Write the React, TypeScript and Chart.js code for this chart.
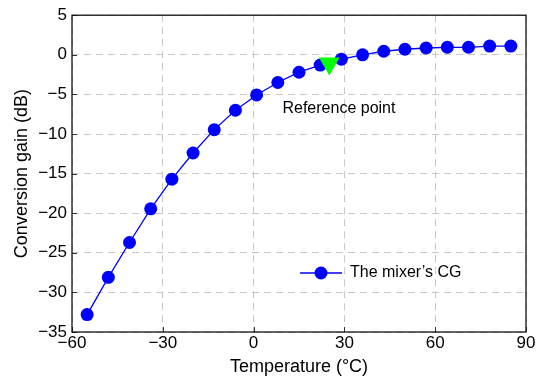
import React, { useEffect, useRef } from "react";
import { Chart, registerables } from "chart.js";

Chart.register(...registerables);

const temperatures = [-55, -48, -41, -34, -27, -20, -13, -6, 1, 8, 15, 22, 29, 36, 43, 50, 57, 64, 71, 78, 85];
const conversionGain = [-32.8, -28.1, -23.7, -19.45, -15.7, -12.4, -9.45, -7.0, -5.07, -3.5, -2.2, -1.3, -0.55, 0.0, 0.45, 0.7, 0.86, 0.95, 0.95, 1.1, 1.1];
const referenceTemp = [25];
const referenceGain = [-1.1];
const xTicks = [-60, -30, 0, 30, 60, 90];
const yTicks = [5, 0, -5, -10, -15, -20, -25, -30, -35];
const seriesLabel = "The mixer\u2019s CG";
const refLabel = "Reference point";
const refLabelPos = { x: 28.2, y: -6.75 };

const FONT = "'Liberation Sans', Arial, sans-serif";
const fmt = (v: number) => String(v).replace("-", "\u2212");

const boxPlugin = {
  id: "boxPlugin",
  afterDatasetsDraw(chart: any) {
    const { ctx, chartArea: a, scales } = chart;
    ctx.save();
    // inner ticks
    ctx.strokeStyle = "#333";
    ctx.lineWidth = 1;
    ctx.beginPath();
    xTicks.forEach((t) => {
      const px = Math.round(scales.x.getPixelForValue(t)) + 0.5;
      ctx.moveTo(px, a.bottom);
      ctx.lineTo(px, a.bottom - 5);
    });
    yTicks.forEach((t) => {
      const py = Math.round(scales.y.getPixelForValue(t)) + 0.5;
      ctx.moveTo(a.left, py);
      ctx.lineTo(a.left + 5, py);
    });
    ctx.stroke();
    // box
    ctx.strokeStyle = "#111";
    ctx.lineWidth = 1.3;
    ctx.strokeRect(a.left, a.top, a.right - a.left, a.bottom - a.top);

    // reference label
    ctx.fillStyle = "#000";
    ctx.font = `16px ${FONT}`;
    ctx.textAlign = "center";
    ctx.textBaseline = "middle";
    ctx.fillText(refLabel, scales.x.getPixelForValue(refLabelPos.x), scales.y.getPixelForValue(refLabelPos.y));

    // legend
    const lx0 = 300, lx1 = 342, ly = 273;
    ctx.strokeStyle = "#0000ff";
    ctx.lineWidth = 1.3;
    ctx.beginPath();
    ctx.moveTo(lx0, ly);
    ctx.lineTo(lx1, ly);
    ctx.stroke();
    ctx.fillStyle = "#0000ff";
    ctx.beginPath();
    ctx.arc((lx0 + lx1) / 2, ly, 6.5, 0, Math.PI * 2);
    ctx.fill();
    ctx.fillStyle = "#000";
    ctx.textAlign = "left";
    ctx.fillText(seriesLabel, 350, ly);
    ctx.restore();
  },
};

export default function App() {
  const ref = useRef<HTMLCanvasElement>(null);
  useEffect(() => {
    document.body.style.margin = "0";
    const chart = new Chart(ref.current!, {
      type: "scatter",
      data: {
        datasets: [
          {
            label: refLabel,
            data: referenceTemp.map((x, i) => ({ x, y: referenceGain[i] })),
            pointStyle: "triangle",
            rotation: 180,
            radius: 12,
            backgroundColor: "#00ff00",
            borderColor: "#00ff00",
            borderWidth: 0,
            showLine: false,
            order: 0,
          } as any,
          {
            label: seriesLabel,
            data: temperatures.map((x, i) => ({ x, y: conversionGain[i] })),
            showLine: true,
            borderColor: "#0000ff",
            borderWidth: 1.3,
            backgroundColor: "#0000ff",
            pointBackgroundColor: "#0000ff",
            pointBorderColor: "#0000ff",
            pointBorderWidth: 0,
            radius: 6.5,
            order: 1,
          } as any,
        ],
      },
      options: {
        animation: false,
        responsive: false,
        layout: { padding: { top: 13, right: 11, left: 0, bottom: 0 } },
        plugins: { legend: { display: false }, tooltip: { enabled: false } },
        scales: {
          x: {
            type: "linear",
            min: -60,
            max: 90,
            afterBuildTicks: (s: any) => { s.ticks = xTicks.map((v) => ({ value: v })); },
            afterFit: (s: any) => { s.height = 49; },
            ticks: { callback: (v: any) => fmt(v), font: { family: FONT, size: 17 }, color: "#000", padding: 1 },
            grid: { color: "#c8c8c8", lineWidth: 1, drawTicks: false },
            border: { display: false, dash: [7, 5] },
            title: { display: true, text: "Temperature (\u00b0C)", font: { family: FONT, size: 18 }, color: "#000", padding: { top: 0, bottom: 3 } },
          },
          y: {
            type: "linear",
            min: -35,
            max: 5,
            afterBuildTicks: (s: any) => { s.ticks = yTicks.map((v) => ({ value: v })); },
            afterFit: (s: any) => { s.width = 72; },
            ticks: { callback: (v: any) => fmt(v), font: { family: FONT, size: 17 }, color: "#000", padding: 5 },
            grid: { color: "#c8c8c8", lineWidth: 1, drawTicks: false },
            border: { display: false, dash: [7, 5] },
            title: { display: true, text: "Conversion gain (dB)", font: { family: FONT, size: 18 }, color: "#000", padding: { top: 11, bottom: 0 } },
          },
        },
      } as any,
      plugins: [boxPlugin],
    });
    return () => chart.destroy();
  }, []);
  return (
    <div style={{ position: "absolute", left: 0, top: 0, width: 538, height: 381 }}>
      <canvas ref={ref} width={538} height={381} style={{ width: 538, height: 381 }} />
    </div>
  );
}
